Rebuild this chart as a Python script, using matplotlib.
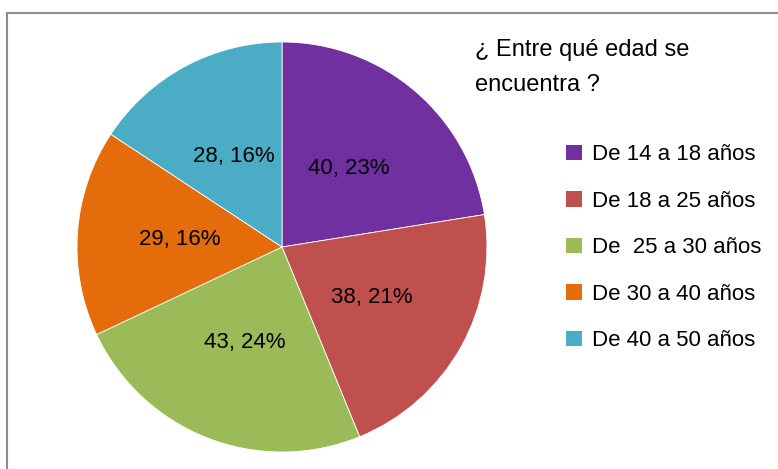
import matplotlib
matplotlib.use("Agg")
import matplotlib.pyplot as plt
from matplotlib.lines import Line2D
from matplotlib.patches import Patch

# data
categories = ["De 14 a 18 años", "De 18 a 25 años", "De  25 a 30 años",
              "De 30 a 40 años", "De 40 a 50 años"]
values = [40, 38, 43, 29, 28]
pct_labels = ["23%", "21%", "24%", "16%", "16%"]
colors = ["#7030A0", "#C0504D", "#9BBB59", "#E46C0A", "#4BACC6"]
title = "¿ Entre qué edad se\nencuentra ?"

plt.rcParams['font.family'] = ['Liberation Sans', 'DejaVu Sans']

W, H = 778, 469
fig = plt.figure(figsize=(W / 100, H / 100), dpi=100)

# pie axes: centre (282, 247) px from top-left, radius 205 px
r = 205
cx, cy = 282, H - 247
ax = fig.add_axes([(cx - r) / W, (cy - r) / H, 2 * r / W, 2 * r / H])
wedges, texts, autotexts = ax.pie(
    values, colors=colors, startangle=90, counterclock=False,
    autopct=lambda p: "", pctdistance=0.5,
    wedgeprops=dict(edgecolor="white", linewidth=0.6))
for t, v, p in zip(autotexts, values, pct_labels):
    t.set_text(f"{v}, {p}")
    t.set_fontsize(16)
    t.set_color("black")
ax.set_xlim(-1, 1)
ax.set_ylim(-1, 1)
ax.set_aspect("equal")

# chart frame (only left and top edges visible)
fig.add_artist(Line2D([7 / W, 7 / W], [0, 1 - 13 / H], color="#8c8c8c", lw=1.5,
                      transform=fig.transFigure))
fig.add_artist(Line2D([7 / W, 1], [1 - 13 / H, 1 - 13 / H], color="#8c8c8c", lw=1.5,
                      transform=fig.transFigure))

fig.text(475 / W, 1 - 39 / H, title, fontsize=17, va="top", ha="left",
         linespacing=1.75)

handles = [Patch(facecolor=c, edgecolor="none") for c in colors]
fig.legend(handles, categories, loc="upper left",
           bbox_to_anchor=(555 / W, 1 - 133 / H), frameon=False,
           fontsize=16, handlelength=0.7, handleheight=0.7,
           handletextpad=0.45, labelspacing=1.15, borderpad=0)

fig.savefig("out.png", dpi=100)
